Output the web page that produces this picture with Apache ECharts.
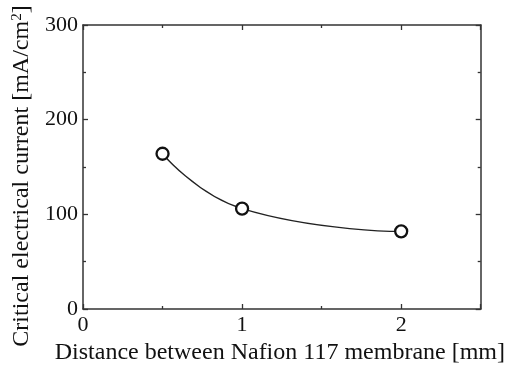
<!DOCTYPE html>
<html>
<head>
<meta charset="utf-8">
<script src="https://cdn.jsdelivr.net/npm/echarts@6/dist/echarts.min.js"></script>
<style>html,body{margin:0;padding:0;background:#fff;}#c{width:508px;height:370px;}</style>
</head>
<body>
<div id="c"></div>
<script>
const distances = [0.5, 1, 2];
const currents = [164, 106, 82];
const xTitle = 'Distance between Nafion 117 membrane [mm]';
const yTitle = 'Critical electrical current [mA/cm{sup|2}]';

const font = 'Liberation Serif';
const axisCol = '#333';
const chart = echarts.init(document.getElementById('c'));
function tickCommon() {
  return {
    axisLine: { show: true, onZero: false, lineStyle: { color: axisCol, width: 1.5 } },
    axisTick: { show: true, inside: true, length: 5, lineStyle: { color: axisCol, width: 1.3 } },
    minorTick: { show: true, splitNumber: 2, length: 3, lineStyle: { color: axisCol, width: 1.3 } },
    splitLine: { show: false },
    minorSplitLine: { show: false }
  };
}
chart.setOption({
  animation: false,
  grid: { left: 83, right: 27, top: 25, bottom: 60 },
  xAxis: [
    Object.assign({
      type: 'value', min: 0, max: 2.5, interval: 1, position: 'bottom',
      name: xTitle, nameLocation: 'middle', nameGap: 32,
      nameTextStyle: { fontFamily: font, fontSize: 24, color: '#111', padding: [0, 4, 0, 0] },
      axisLabel: { fontFamily: font, fontSize: 22, color: '#111', margin: 5, showMaxLabel: false,
        formatter: v => (v === 2.5 ? '' : String(v)) }
    }, tickCommon()),
    Object.assign({
      type: 'value', min: 0, max: 2.5, interval: 1, position: 'top',
      axisLabel: { show: false }
    }, tickCommon())
  ],
  yAxis: [
    Object.assign({
      type: 'value', min: 0, max: 300, interval: 100, position: 'left',
      name: yTitle, nameLocation: 'middle', nameGap: 38,
      nameTextStyle: {
        fontFamily: font, fontSize: 24, color: '#111', padding: [0, 18, 0, 0],
        rich: { sup: { fontFamily: font, fontSize: 15, color: '#111', verticalAlign: 'top', padding: [0, 0, 10, 0] } }
      },
      axisLabel: { fontFamily: font, fontSize: 22, color: '#111', margin: 5 }
    }, tickCommon()),
    Object.assign({
      type: 'value', min: 0, max: 300, interval: 100, position: 'right',
      axisLabel: { show: false }
    }, tickCommon())
  ],
  series: [{
    type: 'line',
    data: distances.map((d, i) => [d, currents[i]]),
    smooth: true,
    symbol: 'circle',
    symbolSize: 12,
    itemStyle: { color: '#fff', borderColor: '#111', borderWidth: 2.3 },
    lineStyle: { color: '#222', width: 1.3 }
  }]
});
</script>
</body>
</html>
